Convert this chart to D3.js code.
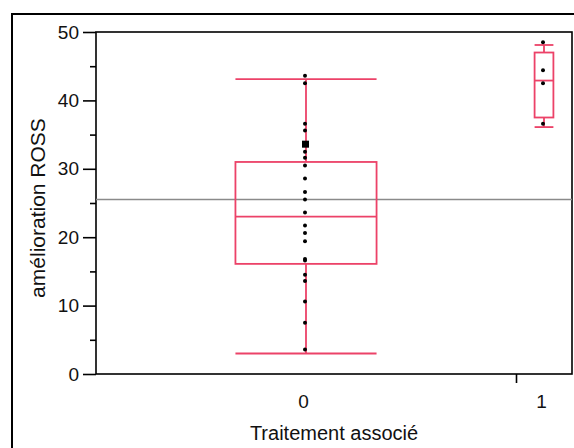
<!DOCTYPE html>
<html>
<head>
<meta charset="utf-8">
<script src="https://cdn.jsdelivr.net/npm/d3@7"></script>
<style>
  body { margin: 0; background: #fff; }
  svg { display: block; font-family: "Liberation Sans", Arial, sans-serif; }
</style>
</head>
<body>
<svg id="chart"></svg>
<script>
// Groups (Traitement associé) and their sizes, which set the column widths
const groups = ['0', '1'];
const groupSizes = [30, 4];

// Individual observations per group (amélioration ROSS)
const pointsGroup0 = [43.6, 42.5, 36.6, 35.6, 32.5, 31.6, 30.5, 28.6, 26.6, 25.5,
  23.6, 21.7, 20.6, 19.4, 16.8, 16.6, 14.5, 13.6, 10.6, 7.5, 3.6];
const highlightGroup0 = [33.6];
const pointsGroup1 = [48.5, 44.4, 42.5, 36.6];

// Box statistics: [lower whisker, Q1, median, Q3, upper whisker]
const boxGroup0 = [3.0, 16.1, 23.0, 31.0, 43.1];
const boxGroup1 = [36.1, 37.5, 42.9, 47.0, 48.1];

const grandMean = 25.5;
const yTicks = [0, 10, 20, 30, 40, 50];
const yMinorTicks = [5, 15, 25, 35, 45];

const width = 574, height = 448;
const margin = { top: 32, right: 2, bottom: 74, left: 96 };

const svg = d3.select('#chart')
  .attr('width', width)
  .attr('height', height);

svg.append('rect')
  .attr('width', width).attr('height', height)
  .attr('fill', '#fff');

// outer frame (runs off the right and bottom edges)
svg.append('rect')
  .attr('x', 12).attr('y', 14)
  .attr('width', 700).attr('height', 600)
  .attr('fill', 'none')
  .attr('stroke', '#000')
  .attr('stroke-width', 2);

const total = d3.sum(groupSizes);
const x = d3.scaleLinear()
  .domain([0, total])
  .range([margin.left, width - margin.right]);

const y = d3.scaleLinear()
  .domain([0, 50])
  .range([height - margin.bottom, margin.top]);

// cumulative boundaries and centres for each group
const bounds = [0];
groupSizes.forEach(n => bounds.push(bounds[bounds.length - 1] + n));
const centers = groupSizes.map((n, i) => bounds[i] + n / 2);

// plot frame
svg.append('rect')
  .attr('x', x(0)).attr('y', y(50))
  .attr('width', x(total) - x(0))
  .attr('height', y(0) - y(50))
  .attr('fill', 'none')
  .attr('stroke', '#000')
  .attr('stroke-width', 1.6);

// y axis
svg.append('g')
  .attr('transform', `translate(${x(0)},0)`)
  .call(d3.axisLeft(y).tickValues(yTicks).tickSize(13).tickPadding(4));
svg.append('g')
  .attr('transform', `translate(${x(0)},0)`)
  .call(d3.axisLeft(y).tickValues(yMinorTicks).tickSize(6).tickFormat(''));

// x axis: tick marks on group boundaries, labels at group centres
svg.append('g')
  .attr('transform', `translate(0,${y(0)})`)
  .call(d3.axisBottom(x).tickValues(bounds.slice(1, -1)).tickSize(9).tickFormat(''));
svg.append('g')
  .attr('class', 'x-labels')
  .attr('transform', `translate(-3,${y(0)})`)
  .call(d3.axisBottom(x).tickValues(centers).tickSize(0).tickPadding(21)
    .tickFormat((d, i) => groups[i]));

svg.selectAll('.domain').remove();
svg.selectAll('.tick line').attr('stroke', '#000').attr('stroke-width', 1.6);
svg.selectAll('.tick text')
  .attr('fill', '#111')
  .style('font-size', '19px')
  .style('font-family', '"Liberation Sans", Arial, sans-serif');

// grand mean line
svg.append('line')
  .attr('x1', x(0)).attr('x2', x(total))
  .attr('y1', y(grandMean)).attr('y2', y(grandMean))
  .attr('stroke', '#8a8a8a')
  .attr('stroke-width', 1.5);

// box plots
const boxColor = '#ec4268';
const boxes = [boxGroup0, boxGroup1];
boxes.forEach((b, i) => {
  const cx = x(centers[i]);
  const half = (x(bounds[i + 1]) - x(bounds[i])) * 0.168;
  const g = svg.append('g')
    .attr('stroke', boxColor)
    .attr('stroke-width', 1.8)
    .attr('fill', 'none');
  g.append('line').attr('x1', cx).attr('x2', cx).attr('y1', y(b[0])).attr('y2', y(b[1]));
  g.append('line').attr('x1', cx).attr('x2', cx).attr('y1', y(b[3])).attr('y2', y(b[4]));
  g.append('rect')
    .attr('x', cx - half).attr('y', y(b[3]))
    .attr('width', half * 2).attr('height', y(b[1]) - y(b[3]));
  [b[0], b[2], b[4]].forEach(v => {
    g.append('line').attr('x1', cx - half).attr('x2', cx + half).attr('y1', y(v)).attr('y2', y(v));
  });
});

// observations
const pointSets = [pointsGroup0, pointsGroup1];
pointSets.forEach((pts, i) => {
  svg.append('g').selectAll('circle')
    .data(pts)
    .enter().append('circle')
      .attr('cx', x(centers[i]) - 1)
      .attr('cy', d => y(d))
      .attr('r', 2)
      .attr('fill', '#000');
});
svg.append('g').selectAll('rect')
  .data(highlightGroup0)
  .enter().append('rect')
    .attr('x', x(centers[0]) - 4)
    .attr('y', d => y(d) - 3.5)
    .attr('width', 7).attr('height', 7)
    .attr('fill', '#000');

// axis titles
svg.append('text')
  .attr('x', (x(0) + x(total)) / 2)
  .attr('y', 440)
  .attr('text-anchor', 'middle')
  .style('font-size', '20px')
  .attr('fill', '#111')
  .text('Traitement associé');

svg.append('text')
  .attr('transform', `translate(45,${(y(0) + y(50)) / 2 + 5}) rotate(-90)`)
  .attr('text-anchor', 'middle')
  .style('font-size', '21px')
  .attr('fill', '#111')
  .text('amélioration ROSS');
</script>
</body>
</html>
